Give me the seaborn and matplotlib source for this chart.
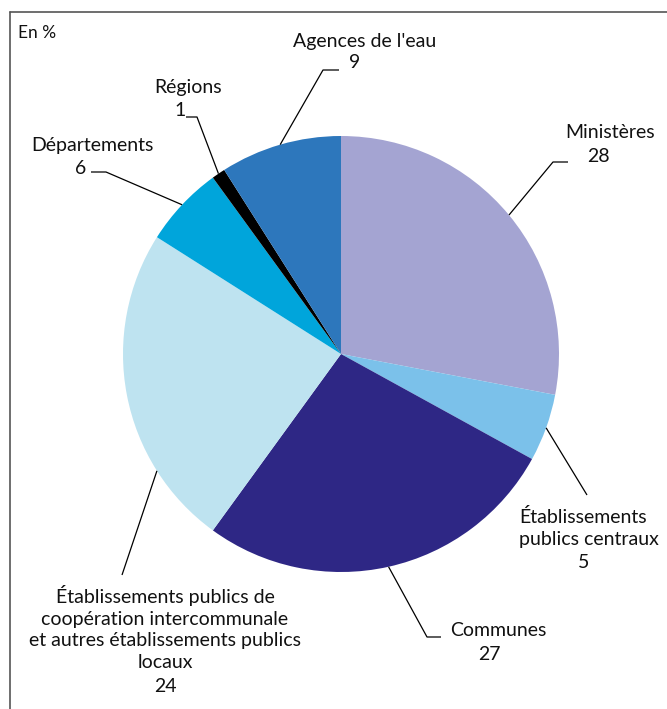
import numpy as np
import matplotlib
matplotlib.use("Agg")
import matplotlib.pyplot as plt
import seaborn as sns
from matplotlib.lines import Line2D

# données (en %)
categories = ["Ministères", "Établissements\npublics centraux", "Communes",
              "Établissements publics de\ncoopération intercommunale\net autres établissements publics\nlocaux",
              "Départements", "Régions", "Agences de l'eau"]
values = [28, 5, 27, 24, 6, 1, 9]
colors = ["#a4a4d2", "#7bc1ea", "#2e2785", "#bee3f0", "#00a5db", "#000000", "#2d77bc"]

sns.set_theme(style="white")
plt.rcParams['font.family'] = ['Lato', 'DejaVu Sans']

W, H = 667, 709
fig = plt.figure(figsize=(W / 100, H / 100), dpi=100)
ax = fig.add_axes([0, 0, 1, 1])

cx, cy, r = 341, H - 354, 218
wedges, _ = ax.pie(values, colors=colors, startangle=90, counterclock=False,
                   center=(cx, cy), radius=r, wedgeprops=dict(linewidth=0), frame=True)
ax.set_xlim(0, W)
ax.set_ylim(0, H)
ax.set_aspect("equal")
ax.axis("off")

# placement (pixels, y depuis le haut):
# fraction dans la part, coude, fin de trait, texte (x, y haut, alignement), valeur (x, y)
layout = [
    (0.5, (553, 162), (568, 162), (610, 133, "center"), (598, 157)),
    (0.5, None, (587, 495), (519, 528, "left"), (584, 563)),
    (0.5, (427, 637), (441, 637), (498, 631, "center"), (489, 654)),
    (0.75, None, (122, 575), (165, 628, "center"), (165, 687)),
    (0.5, (106, 172), (91, 172), (92, 145, "center"), (81, 168)),
    (0.5, (197, 117), (186, 117), (188, 87, "center"), (180, 110)),
    (0.5, (323, 70), (339, 70), (365, 42, "center"), (355, 63)),
]

for w, cat, val, (frac, elbow, end, lab, vpos) in zip(wedges, categories, values, layout):
    ang = np.deg2rad(w.theta1 + frac * (w.theta2 - w.theta1))
    x0, y0 = cx + r * np.cos(ang), cy + r * np.sin(ang)
    pts = [(x0, y0)]
    if elbow is not None:
        pts.append((elbow[0], H - elbow[1]))
    pts.append((end[0], H - end[1]))
    xs, ys = zip(*pts)
    ax.plot(xs, ys, color="black", lw=0.9, solid_capstyle="butt")
    ax.text(lab[0], H - lab[1], cat, ha=lab[2], va="center",
            fontsize=14, color="#111111", linespacing=1.35, multialignment=lab[2])
    ax.text(vpos[0], H - vpos[1], str(val), ha="center", va="center",
            fontsize=14, color="#111111")

ax.text(18, H - 33, "En %", ha="left", va="center", fontsize=12.5, color="#111111")

# cadre
fig.add_artist(Line2D([10 / W, 10 / W], [0, 1 - 12 / H], transform=fig.transFigure,
                      color="#555555", lw=1.2))
fig.add_artist(Line2D([10 / W, 1], [1 - 12 / H, 1 - 12 / H], transform=fig.transFigure,
                      color="#555555", lw=1.2))

fig.savefig("out.png", dpi=100, facecolor="white")
